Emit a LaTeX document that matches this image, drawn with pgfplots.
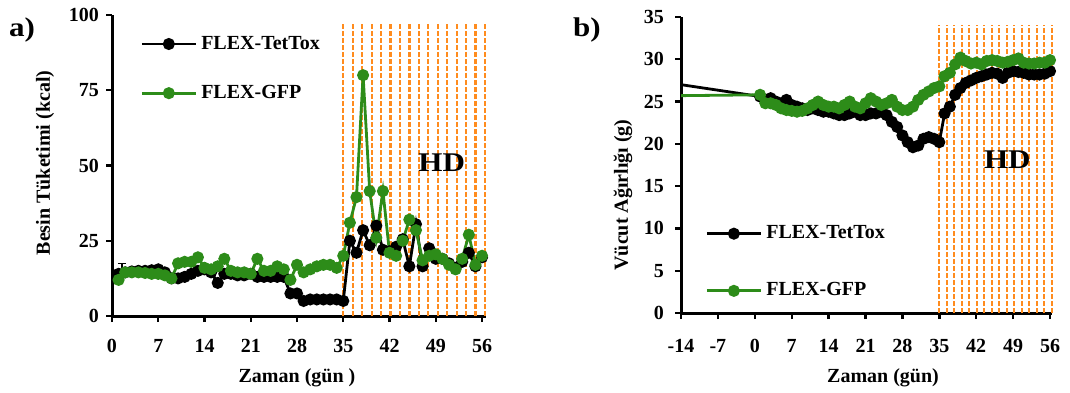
\documentclass[border=0pt]{standalone}
\usepackage{fontspec}
\setmainfont{Liberation Serif}
\newfontfamily\widefont{Liberation Serif}[FakeStretch=1.15]
\usepackage{pgfplots}
\pgfplotsset{compat=1.18}
\definecolor{gfpc}{RGB}{45,140,25}
\definecolor{hdc}{RGB}{255,140,30}

\pgfplotstableread{
x y
1 14
2 14.5
3 14.8
4 15
5 15
6 15.2
7 15.5
8 14.5
9 12.5
10 12.5
11 13
12 14
13 15
14 15.5
15 14.5
16 11
17 14
18 14
19 13.5
20 13.5
21 14
22 13
23 13
24 13
25 13
26 13
27 7.5
28 7.5
29 5
30 5.5
31 5.5
32 5.5
33 5.5
34 5.5
35 5
36 25
37 21
38 28.5
39 23.5
40 30
41 22
42 21.5
43 23
44 25.5
45 16.5
46 30.5
47 16.5
48 22.5
49 19
50 19
51 17.5
52 16
53 18
54 21
55 16.5
56 19.5
}\tetA

\pgfplotstableread{
x y
1 12
2 14.5
3 14.5
4 14.5
5 14.3
6 14
7 14
8 13.5
9 12.5
10 17.5
11 18
12 18
13 19.5
14 16
15 15.5
16 16.5
17 19
18 15
19 14.5
20 14.5
21 14
22 19
23 15
24 15
25 16.5
26 15.5
27 12
28 17
29 14.5
30 15.5
31 16.5
32 17
33 17
34 16
35 20
36 31
37 39.5
38 80
39 41.5
40 26
41 41.5
42 21
43 20
44 25
45 32
46 28.5
47 18.5
48 20
49 20.5
50 19
51 17
52 15.5
53 19
54 27
55 17
56 20
}\gfpA

\pgfplotstableread{
x y
1 25.6
2 25.2
3 25.4
4 25
5 24.8
6 25.2
7 24.6
8 24.4
9 24.2
10 24
11 24.2
12 24
13 23.8
14 23.8
15 23.6
16 23.4
17 23.4
18 23.6
19 23.8
20 23.4
21 23.4
22 23.6
23 23.6
24 23.8
25 23.4
26 22.6
27 22
28 21
29 20.2
30 19.6
31 19.8
32 20.6
33 20.8
34 20.6
35 20.2
36 23.6
37 24.4
38 25.8
39 26.6
40 27.2
41 27.5
42 27.8
43 28
44 28.2
45 28.4
46 28.3
47 27.8
48 28.4
49 28.6
50 28.5
51 28.4
52 28.2
53 28.2
54 28.2
55 28.3
56 28.6
}\tetB

\pgfplotstableread{
x y
1 25.8
2 24.8
3 24.8
4 24.6
5 24.2
6 24
7 23.9
8 23.8
9 23.9
10 24.2
11 24.6
12 25
13 24.6
14 24.4
15 24.4
16 24.2
17 24.6
18 25
19 24.4
20 24.2
21 24.8
22 25.4
23 25
24 24.6
25 24.8
26 25.2
27 24.4
28 24
29 24
30 24.4
31 25.2
32 25.8
33 26.2
34 26.6
35 26.8
36 28
37 28.4
38 29.4
39 30.2
40 29.8
41 29.5
42 29.6
43 29.4
44 29.8
45 29.9
46 29.8
47 29.6
48 29.7
49 29.9
50 30.1
51 29.6
52 29.5
53 29.5
54 29.6
55 29.6
56 29.9
}\gfpB

\begin{document}
\begin{tikzpicture}
\useasboundingbox (0,0) rectangle (535pt,196pt);
\pgfplotsset{
  every axis/.append style={
    scale only axis,
    axis lines=left,
    axis line style={line width=1.5pt,-},
    tick style={line width=1.2pt,black},
    major tick length=3pt,
    tick align=outside,
    /pgf/number format/assume math mode=true,
    ticklabel style={font=\bfseries\fontsize{10}{11}\selectfont},
    clip=false,
    legend cell align=left,
  },
  legend image code/.code={\draw[mark repeat=2,mark phase=2,#1] plot coordinates {(0pt,0pt) (13.5pt,0pt) (27pt,0pt)};},
  tetline/.style={black,line width=1.4pt,mark=*,mark size=2.3pt,mark options={solid}},
  gfpline/.style={gfpc,line width=1.4pt,mark=*,mark size=2.3pt,mark options={solid}},
  hdl/.style={ycomb,draw=hdc,line width=1.1pt,dash pattern=on 2.3pt off 1.2pt,no markers,forget plot},
}

% ---------- panel a ----------
\begin{axis}[
  at={(56pt,38pt)}, anchor=south west,
  width=187pt, height=150.5pt,
  xmin=0, xmax=56.6, ymin=0, ymax=100,
  xtick={0,7,...,56}, ytick={0,25,50,75,100},
  xticklabel style={yshift=-5pt},
  legend style={draw=none,fill=none,at={(0.075,0.945)},anchor=north west,
    font=\bfseries\fontsize{10}{11}\selectfont,row sep=12.5pt,inner sep=0pt},
]
\addplot[hdl] coordinates {(35,97.3) (36.43,97.3) (37.86,97.3) (39.29,97.3) (40.72,97.3) (42.15,97.3) (43.58,97.3) (45.01,97.3) (46.44,97.3) (47.87,97.3) (49.3,97.3) (50.73,97.3) (52.16,97.3) (53.59,97.3) (55.02,97.3) (56.45,97.3)};
\addplot[only marks,mark=none,black,forget plot,error bars/.cd,y dir=plus,y explicit,error bar style={line width=0.8pt}] coordinates {(1.5,14) +- (0,3.5)};
\addplot[tetline] table[x=x,y=y] {\tetA};
\addlegendentry{FLEX-TetTox}
\addplot[gfpline] table[x=x,y=y] {\gfpA};
\addlegendentry{FLEX-GFP}
\node[font=\widefont\bfseries\fontsize{13.5}{14}\selectfont] at (axis cs:49.9,50.8) {HD};
\end{axis}

% ---------- panel b ----------
\begin{axis}[
  at={(340.5pt,39.5pt)}, anchor=south west,
  width=185.3pt, height=148pt,
  xmin=-14, xmax=56.3, ymin=0, ymax=35,
  xtick={-14,-7,...,56}, ytick={0,5,...,35},
  xticklabel style={yshift=-6.5pt},
  yticklabel style={xshift=-2pt},
  legend style={draw=none,fill=none,at={(0.065,0.31)},anchor=north west,
    font=\bfseries\fontsize{10}{11}\selectfont,row sep=16.5pt,inner sep=0pt},
]
\addplot[hdl] coordinates {(35,34) (36.42,34) (37.84,34) (39.26,34) (40.68,34) (42.1,34) (43.52,34) (44.94,34) (46.36,34) (47.78,34) (49.2,34) (50.62,34) (52.04,34) (53.46,34) (54.88,34) (56.3,34)};
\addplot[black,line width=1.4pt,no markers,forget plot] coordinates {(-14,27) (1,25.6)};
\addplot[gfpc,line width=1.4pt,no markers,forget plot] coordinates {(-14,25.7) (1,25.8)};
\addplot[tetline] table[x=x,y=y] {\tetB};
\addlegendentry{FLEX-TetTox}
\addplot[gfpline] table[x=x,y=y] {\gfpB};
\addlegendentry{FLEX-GFP}
\node[font=\widefont\bfseries\fontsize{13.5}{14}\selectfont] at (axis cs:47.9,18.1) {HD};
\end{axis}

% ---------- labels ----------
\node[font=\widefont\bfseries\fontsize{13.5}{14}\selectfont] at (11pt,181pt) {a)};
\node[font=\widefont\bfseries\fontsize{13.5}{14}\selectfont] at (293.5pt,181pt) {b)};
\node[rotate=90,font=\bfseries\fontsize{10}{11}\selectfont] at (22.5pt,114.5pt) {Besin Tüketimi (kcal)};
\node[rotate=90,font=\bfseries\fontsize{10}{11}\selectfont] at (311.5pt,98.5pt) {Vücut Ağırlığı (g)};
\node[font=\bfseries\fontsize{10}{11}\selectfont] at (148.5pt,7pt) {Zaman (gün )};
\node[font=\bfseries\fontsize{10}{11}\selectfont] at (441.5pt,7pt) {Zaman (gün)};
\end{tikzpicture}
\end{document}
